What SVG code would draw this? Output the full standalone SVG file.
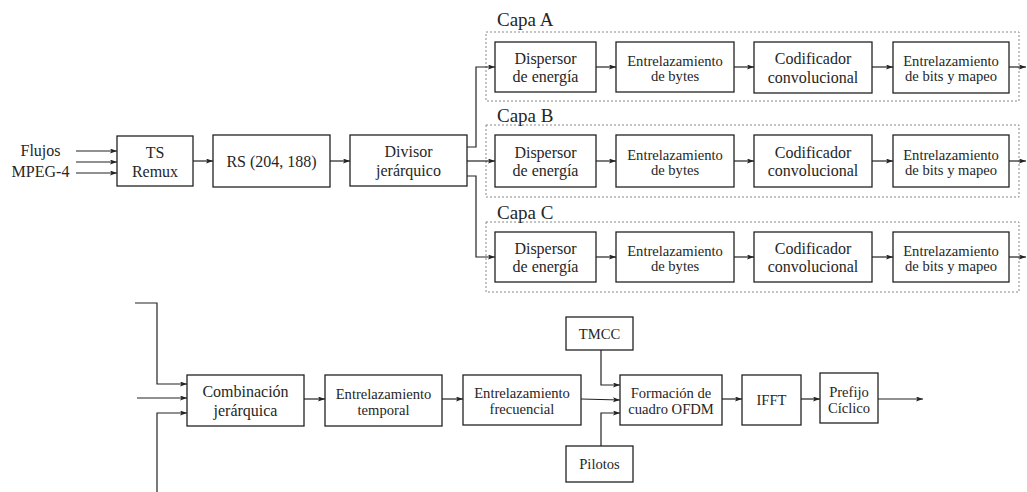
<svg xmlns="http://www.w3.org/2000/svg" width="1027" height="492" viewBox="0 0 1027 492" font-family="'Liberation Serif', 'Times New Roman', serif">
  <style>
    .box { fill: #fff; stroke: #222; stroke-width: 1.3; }
    .layer { fill: none; stroke: #888; stroke-width: 1; stroke-dasharray: 2 2; }
    text { font-family: "Liberation Serif", "Times New Roman", serif; fill: #262626; }
    .t { font-size: 16px; text-anchor: middle; }
    .s { font-size: 14.6px; }
    .cap { font-size: 19px; }
    .wire { fill: none; stroke: #222; stroke-width: 1.2; }
    .arr { marker-end: url(#ah); }
  </style>
  <defs>
    <marker id="ah" markerWidth="8" markerHeight="6" refX="7" refY="2.5" orient="auto" markerUnits="userSpaceOnUse">
      <path d="M0,0 L7,2.5 L0,5 L1.5,2.5 z" fill="#222"/>
    </marker>
  </defs>
  <rect width="1027" height="492" fill="#fff"/>

  <!-- input label -->
  <g id="input-label">
    <text class="t" x="40.5" y="156">Flujos</text>
    <text class="t" x="40.5" y="176.5">MPEG-4</text>
  </g>

  <!-- upper chain -->
  <g id="ts-remux">
    <rect class="box" x="117" y="136" width="76" height="50"/>
    <text class="t" x="155" y="157.5">TS</text>
    <text class="t" x="155" y="176.5">Remux</text>
  </g>
  <g id="rs">
    <rect class="box" x="213" y="135" width="117" height="52"/>
    <text class="t" x="271.5" y="166.5">RS (204, 188)</text>
  </g>
  <g id="divisor">
    <rect class="box" x="350" y="135" width="117" height="51"/>
    <text class="t" x="408.5" y="157">Divisor</text>
    <text class="t" x="408.5" y="176">jerárquico</text>
  </g>

  <!-- hierarchical layers -->
  <g id="capa-a">
    <text class="cap" x="497" y="26">Capa A</text>
    <rect class="layer" x="486" y="32" width="533" height="69"/>
  </g>
  <g id="capa-b">
    <text class="cap" x="497" y="122">Capa B</text>
    <rect class="layer" x="486" y="125" width="533" height="72"/>
  </g>
  <g id="capa-c">
    <text class="cap" x="497" y="219">Capa C</text>
    <rect class="layer" x="486" y="222" width="533" height="70"/>
  </g>

  <g id="a-dispersor">
    <rect class="box" x="495" y="42" width="101" height="50"/>
    <text class="t" x="545.5" y="63.5">Dispersor</text>
    <text class="t" x="545.5" y="82">de energía</text>
  </g>
  <g id="a-bytes">
    <rect class="box" x="616" y="42" width="118" height="50"/>
    <text class="t s" x="675" y="65.5">Entrelazamiento</text>
    <text class="t s" x="675" y="81">de bytes</text>
  </g>
  <g id="a-codificador">
    <rect class="box" x="754" y="42" width="118" height="51"/>
    <text class="t" x="813" y="64">Codificador</text>
    <text class="t" x="813" y="82.5">convolucional</text>
  </g>
  <g id="a-bits">
    <rect class="box" x="893" y="42" width="116" height="51"/>
    <text class="t s" x="951" y="65.5">Entrelazamiento</text>
    <text class="t s" x="951" y="81">de bits y mapeo</text>
  </g>

  <g id="b-dispersor">
    <rect class="box" x="495" y="135" width="101" height="52"/>
    <text class="t" x="545.5" y="157.5">Dispersor</text>
    <text class="t" x="545.5" y="176">de energía</text>
  </g>
  <g id="b-bytes">
    <rect class="box" x="616" y="135" width="118" height="52"/>
    <text class="t s" x="675" y="159.5">Entrelazamiento</text>
    <text class="t s" x="675" y="175">de bytes</text>
  </g>
  <g id="b-codificador">
    <rect class="box" x="754" y="135" width="118" height="52"/>
    <text class="t" x="813" y="157.5">Codificador</text>
    <text class="t" x="813" y="176">convolucional</text>
  </g>
  <g id="b-bits">
    <rect class="box" x="893" y="135" width="116" height="52"/>
    <text class="t s" x="951" y="159.5">Entrelazamiento</text>
    <text class="t s" x="951" y="175">de bits y mapeo</text>
  </g>

  <g id="c-dispersor">
    <rect class="box" x="495" y="232" width="101" height="50"/>
    <text class="t" x="545.5" y="253.5">Dispersor</text>
    <text class="t" x="545.5" y="272">de energía</text>
  </g>
  <g id="c-bytes">
    <rect class="box" x="616" y="232" width="118" height="50"/>
    <text class="t s" x="675" y="255.5">Entrelazamiento</text>
    <text class="t s" x="675" y="271">de bytes</text>
  </g>
  <g id="c-codificador">
    <rect class="box" x="754" y="232" width="118" height="50"/>
    <text class="t" x="813" y="253.5">Codificador</text>
    <text class="t" x="813" y="272">convolucional</text>
  </g>
  <g id="c-bits">
    <rect class="box" x="893" y="232" width="116" height="50"/>
    <text class="t s" x="951" y="255.5">Entrelazamiento</text>
    <text class="t s" x="951" y="271">de bits y mapeo</text>
  </g>

  <!-- lower chain -->
  <g id="combinacion">
    <rect class="box" x="187" y="375" width="117" height="51"/>
    <text class="t" x="245.5" y="397">Combinación</text>
    <text class="t" x="245.5" y="416">jerárquica</text>
  </g>
  <g id="temporal">
    <rect class="box" x="325" y="375" width="117" height="51"/>
    <text class="t s" x="383.5" y="398.5">Entrelazamiento</text>
    <text class="t s" x="383.5" y="414.5">temporal</text>
  </g>
  <g id="frecuencial">
    <rect class="box" x="463" y="375" width="118" height="50"/>
    <text class="t s" x="522" y="398">Entrelazamiento</text>
    <text class="t s" x="522" y="414">frecuencial</text>
  </g>
  <g id="tmcc">
    <rect class="box" x="566" y="317" width="67" height="33"/>
    <text class="t s" x="599.5" y="338.5">TMCC</text>
  </g>
  <g id="pilotos">
    <rect class="box" x="566" y="446" width="67" height="36"/>
    <text class="t s" x="599.5" y="468.5">Pilotos</text>
  </g>
  <g id="ofdm">
    <rect class="box" x="620" y="375" width="102" height="50"/>
    <text class="t s" x="671" y="397.5">Formación de</text>
    <text class="t s" x="671" y="414">cuadro OFDM</text>
  </g>
  <g id="ifft">
    <rect class="box" x="742" y="375" width="59" height="50"/>
    <text class="t s" x="771.5" y="405">IFFT</text>
  </g>
  <g id="prefijo">
    <rect class="box" x="820" y="373" width="58" height="50"/>
    <text class="t s" x="849" y="396.5">Prefijo</text>
    <text class="t s" x="849" y="413">Cíclico</text>
  </g>

  <!-- connectors -->
  <g id="connectors">
    <path class="wire arr" d="M76,151 H117"/>
    <path class="wire arr" d="M76,162 H117"/>
    <path class="wire arr" d="M76,173 H117"/>
    <path class="wire arr" d="M193,161 H213"/>
    <path class="wire arr" d="M330,161 H350"/>
    <path class="wire arr" d="M467,147 H476 V67 H495"/>
    <path class="wire arr" d="M467,161 H495"/>
    <path class="wire arr" d="M467,176 H476 V257 H495"/>

    <path class="wire arr" d="M596,67 H616"/>
    <path class="wire arr" d="M734,67 H754"/>
    <path class="wire arr" d="M872,67 H893"/>
    <path class="wire arr" d="M1009,67 H1026"/>

    <path class="wire arr" d="M596,161 H616"/>
    <path class="wire arr" d="M734,161 H754"/>
    <path class="wire arr" d="M872,161 H893"/>
    <path class="wire arr" d="M1009,161 H1026"/>

    <path class="wire arr" d="M596,257 H616"/>
    <path class="wire arr" d="M734,257 H754"/>
    <path class="wire arr" d="M872,257 H893"/>
    <path class="wire arr" d="M1009,257 H1026"/>

    <path class="wire arr" d="M135,303 H157 V384 H187"/>
    <path class="wire arr" d="M137,398 H187"/>
    <path class="wire arr" d="M157,492 V413 H187"/>
    <path class="wire arr" d="M304,399 H325"/>
    <path class="wire arr" d="M442,399 H463"/>
    <path class="wire arr" d="M581,399 L620,400"/>
    <path class="wire arr" d="M601,350 V385 H620"/>
    <path class="wire arr" d="M601,446 V413 H620"/>
    <path class="wire arr" d="M722,399 H742"/>
    <path class="wire arr" d="M801,399 H820"/>
    <path class="wire arr" d="M878,399 H923"/>
  </g>
</svg>
